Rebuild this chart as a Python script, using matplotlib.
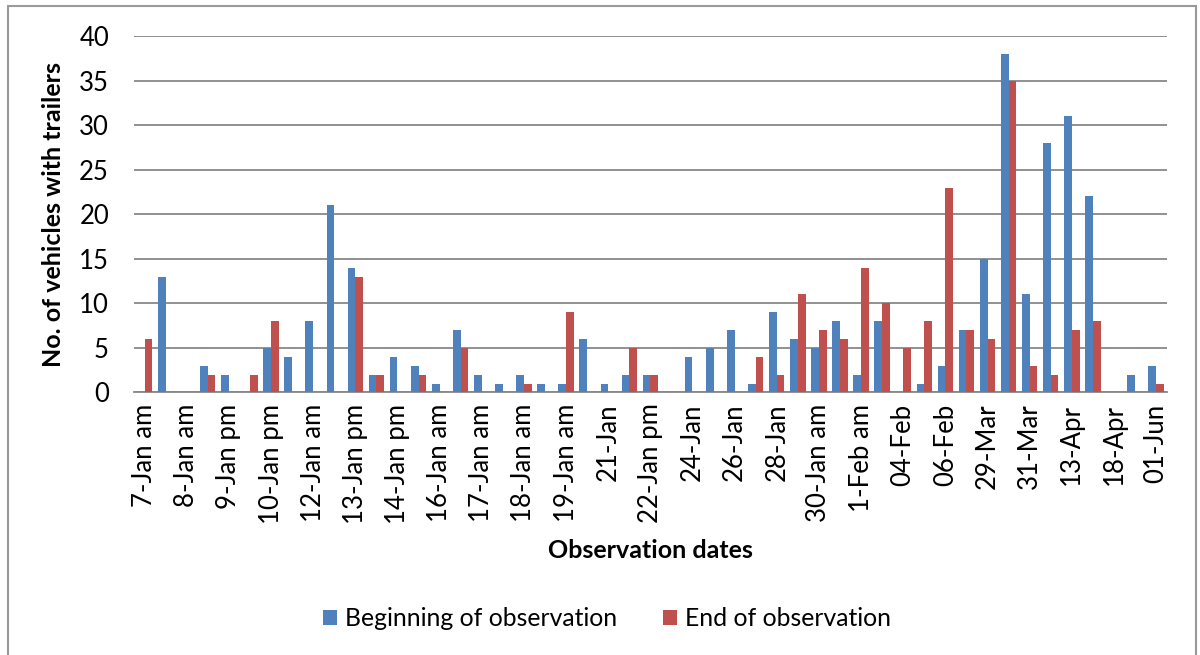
import numpy as np
import matplotlib
matplotlib.use("Agg")
import matplotlib.pyplot as plt
from matplotlib.patches import Rectangle

plt.rcParams['font.family'] = ['Lato', 'DejaVu Sans']

beginning = [0, 13, 0, 3, 2, 0, 5, 4, 8, 21, 14, 2, 4, 3, 1, 7, 2, 1, 2, 1,
             1, 6, 1, 2, 2, 0, 4, 5, 7, 1, 9, 6, 5, 8, 2, 8, 0, 1, 3, 7,
             15, 38, 11, 28, 31, 22, 0, 2, 3]
end = [6, 0, 0, 2, 0, 2, 8, 0, 0, 0, 13, 2, 0, 2, 0, 5, 0, 0, 1, 0,
       9, 0, 0, 5, 2, 0, 0, 0, 0, 4, 2, 11, 7, 6, 14, 10, 5, 8, 23, 7,
       6, 35, 3, 2, 7, 8, 0, 0, 1]

# Only every other date is labelled on the axis
tick_labels = ['7-Jan am', '8-Jan am', '9-Jan pm', '10-Jan pm', '12-Jan am',
               '13-Jan pm', '14-Jan pm', '16-Jan am', '17-Jan am', '18-Jan am',
               '19-Jan am', '21-Jan', '22-Jan pm', '24-Jan', '26-Jan', '28-Jan',
               '30-Jan am', '1-Feb am', '04-Feb', '06-Feb', '29-Mar', '31-Mar',
               '13-Apr', '18-Apr', '01-Jun']

blue = '#4F81BD'
red = '#C0504D'

fig = plt.figure(figsize=(12, 6.55), dpi=100)
ax = fig.add_axes([0.1117, 0.4008, 0.8605, 0.5442])

x = np.arange(len(beginning))
w = 0.365
ax.bar(x - w / 2, beginning, w, color=blue, label='Beginning of observation', zorder=3)
ax.bar(x + w / 2, end, w, color=red, label='End of observation', zorder=3)

ax.set_xlim(-0.5, len(beginning) - 0.5)
ax.set_ylim(0, 40)
ax.set_yticks(range(0, 41, 5))
ax.set_xticks(x[::2])
ax.set_xticklabels(tick_labels, rotation=90, fontsize=18.5)
ax.tick_params(axis='y', labelsize=18.5, length=0, pad=18)
ax.tick_params(axis='x', length=0, pad=8)

ax.grid(axis='y', color='#888888', linewidth=1.3, zorder=0)
for s in ['top', 'right', 'left']:
    ax.spines[s].set_visible(False)
ax.spines['bottom'].set_color('#888888')
ax.spines['bottom'].set_linewidth(1.3)

ax.set_ylabel('No. of vehicles with trailers', fontsize=18, fontweight='bold', labelpad=10)
ax.set_xlabel('Observation dates', fontsize=18, fontweight='bold', labelpad=11)

fig.legend(loc='center', bbox_to_anchor=(607 / 1200, 1 - 619 / 655), ncol=2,
           frameon=False, fontsize=17.8, handlelength=0.57, handleheight=0.57,
           columnspacing=1.86, handletextpad=0.32)

# chart area border
fig.patches.append(Rectangle((8 / 1200, -0.01), 1188 / 1200, 1 - 6 / 655 + 0.01,
                             transform=fig.transFigure, fill=False,
                             edgecolor='#999999', linewidth=1.5))

fig.savefig('out.png', dpi=100)
